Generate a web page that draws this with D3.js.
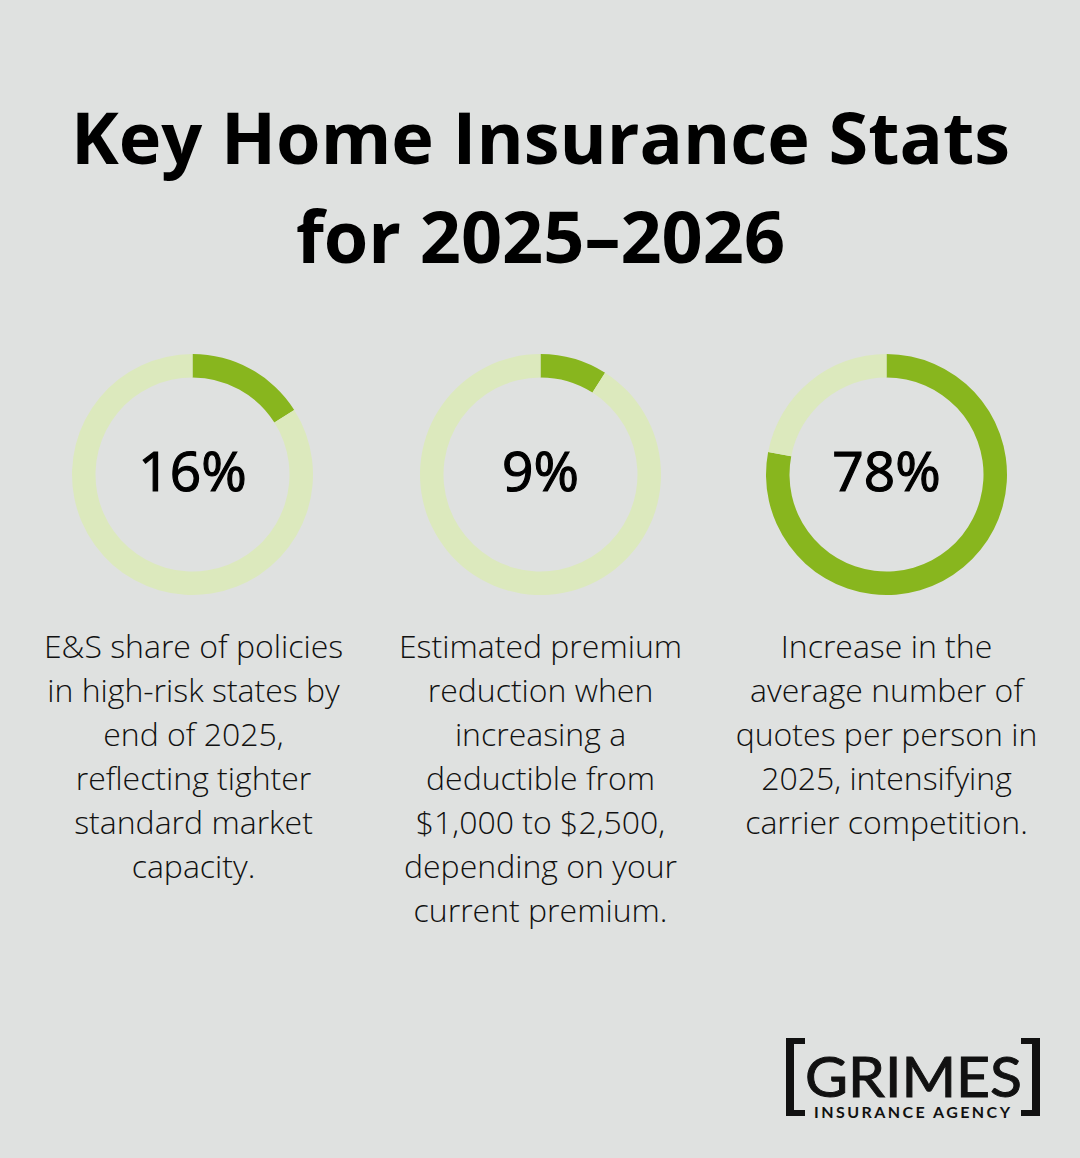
<!DOCTYPE html>
<html>
<head>
<meta charset="utf-8">
<script src="https://cdn.jsdelivr.net/npm/d3@7"></script>
<style>
html, body { margin: 0; padding: 0; background: #dfe1e0; }
text { font-family: "Open Sans", sans-serif; }
</style>
</head>
<body>
<div id="chart"></div>
<script>
var titleLines = ["Key Home Insurance Stats", "for 2025\u20132026"];
var percents = [16, 9, 78];
var captions = [
    ["E&S share of policies", "in high-risk states by", "end of 2025,", "reflecting tighter", "standard market", "capacity."],
    ["Estimated premium", "reduction when", "increasing a", "deductible from", "$1,000 to $2,500,", "depending on your", "current premium."],
    ["Increase in the", "average number of", "quotes per person in", "2025, intensifying", "carrier competition."]
];
var centers = [192.5, 540.5, 886.5];
var captionCenters = [193.5, 540.5, 886.5];

var svg = d3.select("#chart")
    .append("svg")
    .attr("width", 1080)
    .attr("height", 1158)
    .style("display", "block");

svg.append("rect").attr("width", 1080).attr("height", 1158).attr("fill", "#dfe1e0");

//Title
svg.selectAll(".title")
    .data(titleLines)
    .enter()
    .append("text")
    .attr("class", "title")
    .attr("x", 540.5)
    .attr("y", function (d, i) { return 164 + i * 99; })
    .attr("text-anchor", "middle")
    .style("font-size", "72px")
    .style("font-weight", 700)
    .attr("fill", "#000")
    .text(function (d) { return d; });

var arc = d3.arc().innerRadius(97).outerRadius(120.5);
var pie = d3.pie().sort(null);

//Donuts
var donut = svg.selectAll(".donut")
    .data(percents)
    .enter()
    .append("g")
    .attr("class", "donut")
    .attr("transform", function (d, i) { return "translate(" + centers[i] + ",474.5)"; });

donut.selectAll("path")
    .data(function (d) { return pie([d, 100 - d]); })
    .enter()
    .append("path")
    .attr("d", arc)
    .attr("fill", function (d, i) { return i == 0 ? "#88b61e" : "#dce9bd"; });

donut.append("text")
    .attr("y", 16)
    .attr("text-anchor", "middle")
    .style("font-size", "55px")
    .style("font-weight", 400)
    .attr("fill", "#000")
    .attr("stroke", "#000")
    .attr("stroke-width", 1.2)
    .text(function (d) { return d + "%"; });

//Captions
captions.forEach(function (lines, i) {
    svg.selectAll(".cap" + i)
        .data(lines)
        .enter()
        .append("text")
        .attr("class", "cap" + i)
        .attr("x", captionCenters[i])
        .attr("y", function (d, j) { return 658 + j * 44; })
        .attr("text-anchor", "middle")
        .style("font-size", "32px")
        .style("font-weight", 300)
        .attr("fill", "#111")
        .text(function (d) { return d; });
});

//Logo
var logo = svg.append("g");
logo.append("path")
    .attr("d", "M786,1038H805V1044H794V1110H805V1116H786Z")
    .attr("fill", "#111");
logo.append("path")
    .attr("d", "M1040,1038H1021V1044H1032V1110H1021V1116H1040Z")
    .attr("fill", "#111");
logo.append("text")
    .attr("x", 913.5).attr("y", 1097)
    .attr("text-anchor", "middle")
    .style("font-family", "Lato, sans-serif")
    .style("font-size", "56px")
    .style("font-weight", 400)
    .attr("textLength", 217)
    .attr("lengthAdjust", "spacingAndGlyphs")
    .attr("fill", "#111")
    .attr("stroke", "#111")
    .attr("stroke-width", 1)
    .text("GRIMES");
logo.append("text")
    .attr("x", 912).attr("y", 1118)
    .attr("text-anchor", "middle")
    .style("font-family", "Lato, sans-serif")
    .style("font-size", "16px")
    .style("font-weight", 700)
    .attr("textLength", 196)
    .attr("fill", "#111")
    .text("INSURANCE AGENCY");
</script>
</body>
</html>
